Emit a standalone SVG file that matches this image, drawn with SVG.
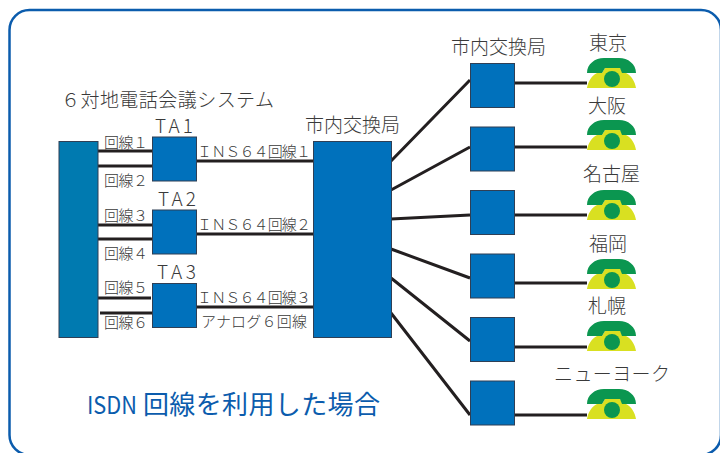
<svg xmlns="http://www.w3.org/2000/svg" width="720" height="453" viewBox="0 0 720 453">
<style>
text{font-family:"Noto Sans CJK JP","Liberation Sans",sans-serif;font-weight:300;fill:#3a3a3a}
.s{font-size:15px}.m{font-size:19px}
.b{fill:#0071bc;stroke:#2f3f55;stroke-width:1}
.l{stroke:#231f20;stroke-width:3;fill:none}
.hs{fill:#0b9650}.bd{fill:#d9e021}
.c{font-weight:400;fill:#0b5cad}
</style>
<defs>
<g id="ph"><path class="bd" d="M0 30C1 24 4 18 10 15H15L18 10H33L36 15H39C45 18 48 24 49 30Z"/><path class="hs" d="M0 15C0 6 8 0 17 0H32C41 0 49 6 49 15H35L33 10H18L15 15Z"/><circle class="hs" cx="25" cy="21" r="8"/></g>
</defs>
<rect id="frame" x="9.500" y="10" width="711.500" height="445" rx="20" fill="#fff" stroke="#0b5cad" stroke-width="2.500"/>
<g id="connectors">
<path class="l" d="M98 151H152M97 166H152M98 225H152M98 239H152M98 298H151M100 313H152M196 161H313M196 234H313M196 307H313"/>
<path class="l" d="M391 161L470 80M391 190L470 147M391 219L470 215M391 249L470 278M391 278L470 341M391 313L470 415"/>
<path class="l" d="M514 83H587M514 147H587M514 215H587M514 283H587M514 347H587M514 415H587"/>
</g>
<g id="rack"><rect x="59" y="141.500" width="39" height="196" fill="#007ab0" stroke="#2f3f55"/></g>
<g id="ta1"><rect class="b" x="152.500" y="137" width="44" height="44"/><text class="m" x="155" y="133" textLength="38">TA1</text></g>
<g id="ta2"><rect class="b" x="152.500" y="210" width="44" height="44"/><text class="m" x="158" y="206" textLength="38">TA2</text></g>
<g id="ta3"><rect class="b" x="152.500" y="283.500" width="44" height="44"/><text class="m" x="157" y="279" textLength="39">TA3</text></g>
<g id="exchange"><rect class="b" x="313.500" y="141.500" width="78" height="196"/><text class="m" x="305" y="132">市内交換局</text></g>
<g id="title"><text x="61" y="107" font-size="19" textLength="213">６対地電話会議システム</text></g>
<g id="lines">
<text class="s" x="104" y="148" textLength="44">回線１</text>
<text class="s" x="104" y="186" textLength="44">回線２</text>
<text class="s" x="104" y="221" textLength="44">回線３</text>
<text class="s" x="104" y="259" textLength="44">回線４</text>
<text class="s" x="104" y="293" textLength="44">回線５</text>
<text class="s" x="104" y="328" textLength="44">回線６</text>
<text class="s" x="197" y="157" textLength="114">ＩＮＳ６４回線１</text>
<text class="s" x="197" y="230" textLength="114">ＩＮＳ６４回線２</text>
<text class="s" x="197" y="303" textLength="114">ＩＮＳ６４回線３</text>
<text class="s" x="201" y="327" textLength="106">アナログ６回線</text>
</g>
<g id="sw1"><rect class="b" x="470.500" y="63.500" width="44" height="44"/><text class="m" x="451" y="54">市内交換局</text></g>
<g id="sw2"><rect class="b" x="470.500" y="127" width="44" height="44"/></g>
<g id="sw3"><rect class="b" x="470.500" y="190.500" width="44" height="44"/></g>
<g id="sw4"><rect class="b" x="470.500" y="254" width="44" height="44"/></g>
<g id="sw5"><rect class="b" x="470.500" y="317.500" width="44" height="44"/></g>
<g id="sw6"><rect class="b" x="470.500" y="381" width="44" height="44"/></g>
<g id="tokyo"><use href="#ph" x="587" y="58"/><text class="m" x="589" y="50">東京</text></g>
<g id="osaka"><use href="#ph" x="587" y="120"/><text class="m" x="588" y="113">大阪</text></g>
<g id="nagoya"><use href="#ph" x="587" y="190"/><text class="m" x="583" y="181">名古屋</text></g>
<g id="fukuoka"><use href="#ph" x="587" y="259"/><text class="m" x="589" y="251">福岡</text></g>
<g id="sapporo"><use href="#ph" x="587" y="321"/><text class="m" x="588" y="313">札幌</text></g>
<g id="newyork"><use href="#ph" x="587" y="389"/><text class="m" x="554" y="381" textLength="116">ニューヨーク</text></g>
<g id="caption"><text class="c" x="87" y="414" font-size="24" textLength="50" lengthAdjust="spacingAndGlyphs">ISDN</text><text class="c" x="143" y="414" font-size="26" textLength="237">回線を利用した場合</text></g>
</svg>
